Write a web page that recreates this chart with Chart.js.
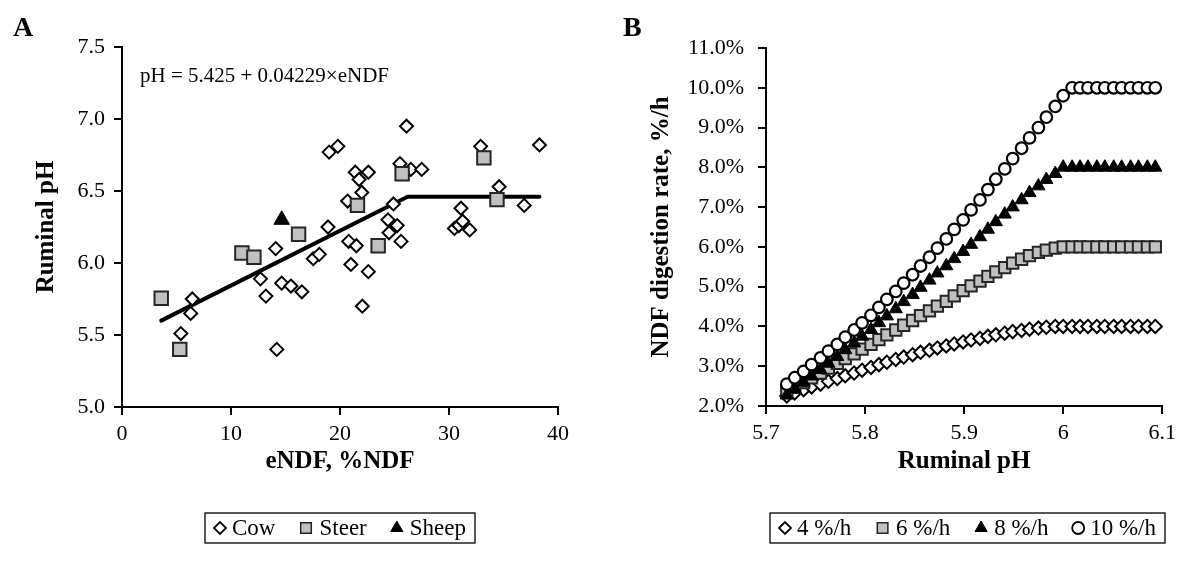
<!DOCTYPE html>
<html>
<head>
<meta charset="utf-8">
<script src="https://cdn.jsdelivr.net/npm/chart.js@4.4.0/dist/chart.umd.min.js"></script>
<style>
html, body { margin: 0; padding: 0; background: #fff; }
#wrap { position: relative; width: 1182px; height: 567px; }
canvas { position: absolute; left: 0; top: 0; }
</style>
</head>
<body>
<div id="wrap">
  <canvas id="chartA" width="1182" height="567"></canvas>
  <canvas id="chartB" width="1182" height="567"></canvas>
</div>
<script>
// panel A: ruminal pH vs eNDF
const cowENDF = [5.4, 6.3, 6.45, 12.7, 13.2, 14.1, 14.2, 14.65, 15.5, 16.5, 17.55, 18.1, 18.9, 19.0, 19.8, 20.7, 20.8, 21.0, 21.4, 21.5, 21.75, 22.0, 22.05, 22.6, 22.6, 24.4, 24.5, 24.9, 25.25, 25.5, 25.6, 26.1, 26.5, 27.5, 30.5, 30.9, 31.1, 31.25, 31.9, 32.9, 34.6, 36.9, 38.3];
const cowPH = [5.51, 5.65, 5.75, 5.89, 5.77, 6.10, 5.40, 5.86, 5.84, 5.80, 6.03, 6.06, 6.25, 6.77, 6.81, 6.43, 6.15, 5.99, 6.63, 6.12, 6.58, 6.49, 5.70, 6.63, 5.94, 6.30, 6.21, 6.41, 6.26, 6.69, 6.15, 6.95, 6.65, 6.65, 6.24, 6.26, 6.38, 6.29, 6.23, 6.81, 6.53, 6.40, 6.82];
const steerENDF = [3.6, 5.3, 11.0, 12.1, 16.2, 21.6, 23.5, 25.7, 33.2, 34.4];
const steerPH = [5.755, 5.40, 6.07, 6.04, 6.20, 6.40, 6.12, 6.62, 6.73, 6.44];
const sheepENDF = [14.65];
const sheepPH = [6.30];
const fitENDF = [3.6, 26.2, 38.3];
const fitPH = [5.60, 6.46, 6.46];
const endfTicks = [0, 10, 20, 30, 40];
const phTicks = [5.0, 5.5, 6.0, 6.5, 7.0, 7.5];
const equationText = 'pH = 5.425 + 0.04229\u00d7eNDF';

// panel B: NDF digestion rate vs ruminal pH
const pHValues = [5.721, 5.729, 5.738, 5.746, 5.755, 5.763, 5.772, 5.780, 5.789, 5.797,
  5.806, 5.814, 5.822, 5.831, 5.839, 5.848, 5.856, 5.865, 5.873, 5.882,
  5.890, 5.899, 5.907, 5.916, 5.924, 5.932, 5.941, 5.949, 5.958, 5.966,
  5.975, 5.983, 5.992, 6.000, 6.009, 6.017, 6.025, 6.034, 6.042, 6.051,
  6.059, 6.068, 6.076, 6.085, 6.093];
const rate4 = [2.25, 2.33, 2.41, 2.48, 2.55, 2.62, 2.69, 2.76, 2.83, 2.90,
  2.97, 3.04, 3.10, 3.17, 3.23, 3.29, 3.35, 3.40, 3.46, 3.51,
  3.56, 3.61, 3.66, 3.70, 3.75, 3.79, 3.83, 3.87, 3.90, 3.93,
  3.96, 3.98, 4.00, 4.00, 4.00, 4.00, 4.00, 4.00, 4.00, 4.00,
  4.00, 4.00, 4.00, 4.00, 4.00];
const rate6 = [2.35, 2.47, 2.59, 2.71, 2.83, 2.95, 3.07, 3.19, 3.31, 3.43,
  3.55, 3.67, 3.79, 3.91, 4.03, 4.15, 4.27, 4.39, 4.51, 4.63,
  4.77, 4.90, 5.02, 5.14, 5.26, 5.37, 5.48, 5.59, 5.69, 5.78,
  5.86, 5.92, 5.97, 6.00, 6.00, 6.00, 6.00, 6.00, 6.00, 6.00,
  6.00, 6.00, 6.00, 6.00, 6.00];
const rate8 = [2.27, 2.43, 2.59, 2.75, 2.91, 3.07, 3.24, 3.41, 3.58, 3.75,
  3.92, 4.09, 4.26, 4.44, 4.62, 4.80, 4.98, 5.16, 5.34, 5.52,
  5.70, 5.88, 6.06, 6.25, 6.44, 6.63, 6.82, 7.00, 7.18, 7.36,
  7.53, 7.69, 7.84, 8.00, 8.00, 8.00, 8.00, 8.00, 8.00, 8.00,
  8.00, 8.00, 8.00, 8.00, 8.00];
const rate10 = [2.55, 2.71, 2.87, 3.04, 3.21, 3.38, 3.55, 3.73, 3.91, 4.09,
  4.28, 4.48, 4.68, 4.88, 5.09, 5.30, 5.52, 5.74, 5.97, 6.20,
  6.44, 6.68, 6.93, 7.18, 7.44, 7.70, 7.96, 8.22, 8.48, 8.74,
  9.00, 9.26, 9.53, 9.80, 10.00, 10.00, 10.00, 10.00, 10.00, 10.00,
  10.00, 10.00, 10.00, 10.00, 10.00];
const pHTicks = [5.7, 5.8, 5.9, 6.0, 6.1];
const pHTickLabels = ['5.7', '5.8', '5.9', '6', '6.1'];
const rateTicks = [2, 3, 4, 5, 6, 7, 8, 9, 10, 11];
const rateTickLabels = ['2.0%', '3.0%', '4.0%', '5.0%', '6.0%', '7.0%', '8.0%', '9.0%', '10.0%', '11.0%'];

const serif = "'Liberation Serif', 'Times New Roman', serif";

function points(xs, ys) {
    return xs.map((x, i) => ({ x: x, y: ys[i] }));
}

// free text (panel letter, equation) + boxed legend under the plot
const extras = {
    id: 'extras',
    afterDraw(chart, args, o) {
        let ctx = chart.ctx;
        ctx.save();
        ctx.fillStyle = '#000';
        ctx.textAlign = 'left';
        ctx.textBaseline = 'alphabetic';
        (o.texts || []).forEach(t => {
            ctx.font = t.font;
            ctx.fillText(t.text, t.x, t.y);
        });

        let lg = o.legend;
        let items = chart.data.datasets.filter(d => d.legendRadius);
        ctx.font = lg.font;
        let widths = items.map(d => 2 * d.legendRadius + lg.gap + ctx.measureText(d.label).width);
        let used = widths.reduce((a, b) => a + b, 0);
        let space = (lg.right - lg.left - 2 * lg.pad - used) / (items.length - 1);
        let midY = (lg.top + lg.bottom) / 2;
        ctx.lineWidth = 1.3;
        ctx.strokeStyle = '#000';
        ctx.strokeRect(lg.left, lg.top, lg.right - lg.left, lg.bottom - lg.top);
        let x = lg.left + lg.pad;
        items.forEach((d, i) => {
            let r = d.legendRadius;
            ctx.fillStyle = d.pointBackgroundColor;
            ctx.strokeStyle = d.pointBorderColor;
            ctx.lineWidth = d.legendBorder;
            Chart.helpers.drawPoint(ctx, { pointStyle: d.pointStyle, rotation: 0, radius: r, borderWidth: d.legendBorder }, x + r, midY);
            ctx.fillStyle = '#000';
            ctx.textBaseline = 'middle';
            ctx.fillText(d.label, x + 2 * r + lg.gap, midY + 1);
            x += widths[i] + space;
        });
        ctx.restore();
    }
};

function axis(opts) {
    return {
        type: 'linear',
        min: opts.min,
        max: opts.max,
        afterBuildTicks: s => { s.ticks = opts.ticks.map(v => ({ value: v })); },
        afterFit: opts.fit,
        ticks: {
            autoSkip: false,
            maxRotation: 0,
            callback: opts.label,
            font: { family: serif, size: 22 },
            color: '#000',
            padding: opts.pad
        },
        grid: { display: true, drawOnChartArea: false, drawTicks: true, tickLength: 8, color: '#000', lineWidth: 2 },
        border: { display: true, color: '#000', width: 2 },
        title: {
            display: true,
            text: opts.title,
            font: { family: serif, size: 25, weight: 'bold' },
            color: '#000',
            padding: opts.titlePad
        }
    };
}

new Chart(document.getElementById('chartA'), {
    type: 'scatter',
    data: {
        datasets: [{
            label: 'Cow',
            data: points(cowENDF, cowPH),
            pointStyle: 'rectRot',
            pointRadius: 6.5,
            pointBackgroundColor: '#ffffff',
            pointBorderColor: '#000000',
            pointBorderWidth: 2,
            legendRadius: 6,
            legendBorder: 1.8,
            clip: false,
            order: 3
        }, {
            label: 'Steer',
            data: points(steerENDF, steerPH),
            pointStyle: 'rect',
            pointRadius: 9.5,
            pointBackgroundColor: '#c0c0c0',
            pointBorderColor: '#262626',
            pointBorderWidth: 2,
            legendRadius: 7.5,
            legendBorder: 1.5,
            clip: false,
            order: 2
        }, {
            label: 'Sheep',
            data: points(sheepENDF, sheepPH),
            pointStyle: 'triangle',
            pointRadius: 9,
            pointBackgroundColor: '#000000',
            pointBorderColor: '#000000',
            pointBorderWidth: 1,
            legendRadius: 7,
            legendBorder: 1,
            clip: false,
            order: 1
        }, {
            label: 'fit',
            data: points(fitENDF, fitPH),
            showLine: true,
            pointRadius: 0,
            borderColor: '#000000',
            borderWidth: 4,
            borderJoinStyle: 'round',
            borderCapStyle: 'round',
            clip: false,
            order: 4
        }]
    },
    options: {
        responsive: false,
        animation: false,
        events: [],
        layout: { padding: { left: 30, top: 47, right: 624, bottom: 90 } },
        plugins: {
            legend: { display: false },
            tooltip: { enabled: false },
            extras: {
                texts: [
                    { text: 'A', x: 13, y: 36, font: 'bold 28px ' + serif },
                    { text: equationText, x: 140, y: 82, font: '21px ' + serif }
                ],
                legend: { left: 205, right: 475, top: 513, bottom: 543, pad: 9, gap: 6, font: '23px ' + serif }
            }
        },
        scales: {
            x: axis({ min: 0, max: 40, ticks: endfTicks, label: v => String(v), pad: 6,
                fit: s => { s.height = 70; }, title: 'eNDF, %NDF', titlePad: { top: 0, bottom: 0 } }),
            y: axis({ min: 5, max: 7.5, ticks: phTicks, label: v => v.toFixed(1), pad: 9,
                fit: s => { s.width = 92; }, title: 'Ruminal pH', titlePad: { top: 2, bottom: 0 } })
        }
    },
    plugins: [extras]
});

new Chart(document.getElementById('chartB'), {
    type: 'scatter',
    data: {
        datasets: [{
            label: '4 %/h',
            data: points(pHValues, rate4),
            pointStyle: 'rectRot',
            pointRadius: 6.6,
            pointBackgroundColor: '#ffffff',
            pointBorderColor: '#000000',
            pointBorderWidth: 2,
            legendRadius: 6,
            legendBorder: 1.8,
            clip: false,
            order: 4
        }, {
            label: '6 %/h',
            data: points(pHValues, rate6),
            pointStyle: 'rect',
            pointRadius: 8,
            pointBackgroundColor: '#c0c0c0',
            pointBorderColor: '#262626',
            pointBorderWidth: 2,
            legendRadius: 7.5,
            legendBorder: 1.5,
            clip: false,
            order: 3
        }, {
            label: '8 %/h',
            data: points(pHValues, rate8),
            pointStyle: 'triangle',
            pointRadius: 7.6,
            pointBackgroundColor: '#000000',
            pointBorderColor: '#000000',
            pointBorderWidth: 1,
            legendRadius: 7,
            legendBorder: 1,
            clip: false,
            order: 2
        }, {
            label: '10 %/h',
            data: points(pHValues, rate10),
            pointStyle: 'circle',
            pointRadius: 5.8,
            pointBackgroundColor: '#ffffff',
            pointBorderColor: '#000000',
            pointBorderWidth: 2.2,
            legendRadius: 6,
            legendBorder: 1.8,
            clip: false,
            order: 1
        }]
    },
    options: {
        responsive: false,
        animation: false,
        events: [],
        layout: { padding: { left: 640, top: 48, right: 16, bottom: 90 } },
        plugins: {
            legend: { display: false },
            tooltip: { enabled: false },
            extras: {
                texts: [
                    { text: 'B', x: 623, y: 36, font: 'bold 28px ' + serif }
                ],
                legend: { left: 770, right: 1165, top: 513, bottom: 543, pad: 9, gap: 6, font: '23px ' + serif }
            }
        },
        scales: {
            x: axis({ min: 5.7, max: 6.1, ticks: pHTicks, label: (v, i) => pHTickLabels[i], pad: 6,
                fit: s => { s.height = 71; }, title: 'Ruminal pH', titlePad: { top: 0, bottom: 0 } }),
            y: axis({ min: 2, max: 11, ticks: rateTicks, label: (v, i) => rateTickLabels[i], pad: 14,
                fit: s => { s.width = 126; }, title: 'NDF digestion rate, %/h', titlePad: { top: 7, bottom: 0 } })
        }
    },
    plugins: [extras]
});
</script>
</body>
</html>
